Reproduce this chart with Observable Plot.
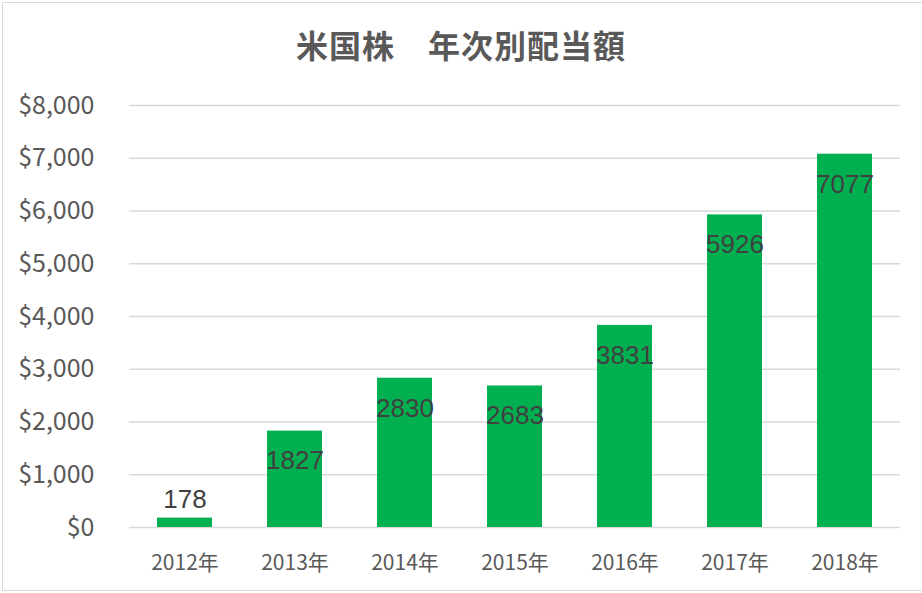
<!DOCTYPE html>
<html>
<head>
<meta charset="utf-8">
<script src="https://cdn.jsdelivr.net/npm/d3@7"></script>
<script src="https://cdn.jsdelivr.net/npm/@observablehq/plot@0.6"></script>
<style>
  html, body { margin: 0; padding: 0; background: #fff; }
  #frame { position: absolute; left: 2px; top: 2px; width: 940px; height: 589px; border: 1px solid #d9d9d9; box-sizing: border-box; }
  #wrap { position: relative; width: 922px; }
  #title { height: 80px; box-sizing: border-box; padding-top: 26px; line-height: 36px; text-align: center;
           font-family: "Noto Sans CJK JP", sans-serif; font-weight: bold; font-size: 32px; color: #595959; letter-spacing: 1px; }
</style>
</head>
<body>
<div id="frame"></div>
<div id="wrap">
  <div id="title">米国株　年次別配当額</div>
  <div id="chart"></div>
</div>
<script>
const years = ["2012年", "2013年", "2014年", "2015年", "2016年", "2017年", "2018年"];
const dividends = [178, 1827, 2830, 2683, 3831, 5926, 7077];
const yTicks = [0, 1000, 2000, 3000, 4000, 5000, 6000, 7000, 8000];

const data = years.map((y, i) => ({year: y, value: dividends[i]}));
const fmt = d3.format(",");

const chart = Plot.plot({
  width: 922,
  height: 513,
  marginTop: 25,
  marginBottom: 66,
  marginLeft: 129,
  marginRight: 22,
  style: {fontFamily: "'Noto Sans CJK JP', sans-serif", color: "#595959", background: "transparent", overflow: "visible"},
  x: {domain: years, paddingInner: 0.5, paddingOuter: 0.25, label: null, tickSize: 0, tickPadding: 28},
  y: {domain: [0, 8000], ticks: yTicks, label: null, tickSize: 0, tickPadding: 35, tickFormat: d => "$" + fmt(d)},
  marks: [
    Plot.gridY(yTicks, {stroke: "#d9d9d9", strokeOpacity: 1, strokeWidth: 1.5}),
    Plot.barY(data, {x: "year", y: "value", fill: "#00b050", style: "filter: drop-shadow(1px 1px 1.5px rgba(0,0,0,0.3))"}),
    Plot.text(data.filter(d => d.value >= 1000), {x: "year", y: "value", text: d => String(d.value), dy: 30,
      fontSize: 26, fill: "#404040", fontFamily: "'Liberation Sans', sans-serif"}),
    Plot.text(data.filter(d => d.value < 1000), {x: "year", y: "value", text: d => String(d.value), dy: -18,
      fontSize: 26, fill: "#404040", fontFamily: "'Liberation Sans', sans-serif"})
  ]
});
chart.querySelectorAll("g[aria-label='y-axis tick label']").forEach(g => g.setAttribute("font-size", "25"));
chart.querySelectorAll("g[aria-label='x-axis tick label']").forEach(g => g.setAttribute("font-size", "21"));
document.getElementById("chart").appendChild(chart);
</script>
</body>
</html>
